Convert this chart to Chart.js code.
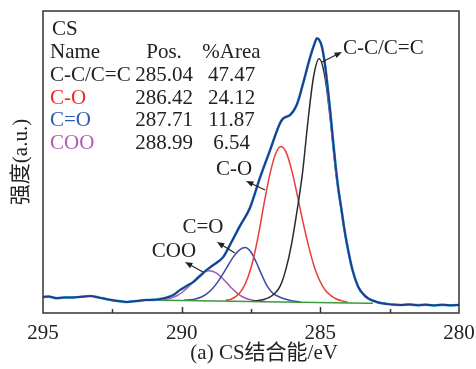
<!DOCTYPE html>
<html lang="zh">
<head>
<meta charset="UTF-8">
<title>CS C1s 分峰拟合</title>
<script src="https://cdn.jsdelivr.net/npm/chart.js"></script>
<style>
  body { margin: 0; background: #ffffff; }
  #wrap { width: 476px; height: 369px; }
</style>
</head>
<body>
<div id="wrap"><canvas id="grafico" width="476" height="369"></canvas></div>
<script>
// ---- table in the corner ----
const sampleName = 'CS';
const tableHeader = ['Name', 'Pos.', '%Area'];
const peakNames = ['C-C/C=C', 'C-O', 'C=O', 'COO'];
const peakPositions = ['285.04', '286.42', '287.71', '288.99'];
const peakAreas = ['47.47', '24.12', '11.87', '6.54'];
const peakTextColors = ['#222222', '#ee2a2a', '#2d5bb5', '#b25bb8'];

// ---- measured spectrum (binding energy eV / intensity a.u.) ----
const envelopeEnergy = [295.0, 294.8, 294.5, 294.2, 293.9, 293.6, 293.3, 293.0, 292.7, 292.5,
  292.3, 292.0, 291.8, 291.6, 291.3, 291.0, 290.8, 290.5, 290.3, 290.06,
  289.82, 289.58, 289.34, 289.1, 288.86, 288.5, 288.26, 287.9, 287.54, 287.18,
  286.81, 286.45, 286.33, 286.2, 286.09, 285.91, 285.8, 285.67, 285.55, 285.43,
  285.3, 285.2, 285.13, 285.05, 284.95, 284.84, 284.74, 284.64, 284.54, 284.44,
  284.34, 284.24, 284.14, 284.04, 283.84, 283.64, 283.44, 283.24, 283.04, 282.84,
  282.6, 282.4, 282.1, 281.8, 281.5, 281.2, 280.9, 280.6, 280.3, 280.0];
const envelopeValues = [16, 16.4, 14.8, 15.6, 15.6, 16.3, 17, 15.6, 13.8, 12.8,
  12.1, 11, 11.6, 12, 13, 13.2, 13.8, 15.7, 18, 23,
  27, 31, 37, 43, 48, 56, 68, 87, 105, 135,
  163, 190, 194.7, 196.5, 198, 204.7, 212, 224.7, 237, 249.7,
  262, 270, 274.7, 273.5, 267, 250, 227, 201, 172, 145,
  122, 104, 85, 69, 43, 26.5, 18.5, 14, 11.8, 10,
  9.1, 8.4, 8.0, 8.6, 7.8, 8.3, 7.6, 8.2, 7.7, 8.0];

// ---- fitted components ----
const ccEnergy = [282.64, 282.84, 283.04, 283.24, 283.44, 283.64, 283.84, 284.04, 284.24, 284.44,
  284.64, 284.84, 285.04, 285.24, 285.44, 285.64, 285.84, 286.04, 286.24, 286.44,
  286.64, 286.84, 287.04, 287.24, 287.44];
const ccValues = [10.1, 10.6, 11.9, 14.2, 18.4, 26.3, 42.9, 67.9, 101.6, 140.2,
  193.2, 236.8, 254.2, 237.0, 193.5, 140.7, 102.2, 68.7, 43.9, 27.4,
  19.7, 15.6, 13.5, 12.4, 12.0];

const coEnergy = [284.02, 284.22, 284.42, 284.62, 284.82, 285.02, 285.22, 285.42, 285.62, 285.82,
  286.02, 286.22, 286.42, 286.62, 286.82, 287.02, 287.22, 287.42, 287.62, 287.82,
  288.02, 288.22, 288.42];
const coValues = [10.9, 12.1, 14.0, 17.4, 22.8, 32.3, 46.3, 66.6, 90.1, 116.5,
  141.4, 159.9, 166.5, 158.8, 138.6, 110.8, 79.8, 53.5, 34.9, 23.3,
  17.1, 13.8, 12.7];

const c2oEnergy = [285.71, 285.91, 286.11, 286.31, 286.51, 286.71, 286.91, 287.11, 287.31, 287.51,
  287.71, 287.91, 288.11, 288.31, 288.51, 288.71, 288.91, 289.11, 289.31, 289.51,
  289.71, 289.91];
const c2oValues = [11.1, 11.7, 12.8, 14.2, 16.5, 19.8, 26.6, 37.9, 50.7, 61.2,
  65.4, 63.2, 57.1, 48.5, 39.1, 30.6, 23.7, 18.8, 15.7, 14.0,
  13.2, 12.8];

const cooEnergy = [286.99, 287.19, 287.39, 287.59, 287.79, 287.99, 288.19, 288.39, 288.59, 288.79,
  288.99, 289.19, 289.39, 289.59, 289.79, 289.99, 290.19, 290.39, 290.59, 290.79,
  290.99];
const cooValues = [11.5, 11.8, 12.5, 13.7, 16.0, 19.7, 24.7, 30.7, 36.3, 40.6,
  42.3, 40.8, 36.7, 31.1, 25.3, 20.5, 17.0, 14.9, 13.7, 13.2,
  13.1];

const bgEnergy = [291.2, 283.1];
const bgValues = [13.0, 9.7];

// ---- peak labels with arrows (data units) ----
const labelTexts = ['C-C/C=C', 'C-O', 'C=O', 'COO'];
const labelE = [282.73, 288.11, 289.23, 290.28];
const labelV = [265, 144, 86, 62];
const arrowFromE = [284.94, 286.99, 288.08, 289.23];
const arrowFromV = [251, 123, 60, 41];
const arrowToE = [284.22, 287.68, 288.73, 289.88];
const arrowToV = [261, 132, 71, 51];

const xTicks = { min: 280, max: 295, step: 2.5 };

const FONT_FAMILY = "'Liberation Serif', 'Times New Roman', 'Noto Sans CJK SC', serif";
const FONT = '21px ' + FONT_FAMILY;

function pts(xs, ys) {
  return xs.map((x, i) => ({ x: x, y: ys[i] }));
}

function arrow(ctx, x1, y1, x2, y2) {
  const ang = Math.atan2(y2 - y1, x2 - x1);
  const len = 8;
  ctx.beginPath();
  ctx.moveTo(x1, y1);
  ctx.lineTo(x2 - Math.cos(ang) * 4, y2 - Math.sin(ang) * 4);
  ctx.stroke();
  ctx.beginPath();
  ctx.moveTo(x2, y2);
  ctx.lineTo(x2 - len * Math.cos(ang - 0.38), y2 - len * Math.sin(ang - 0.38));
  ctx.lineTo(x2 - len * Math.cos(ang + 0.38), y2 - len * Math.sin(ang + 0.38));
  ctx.closePath();
  ctx.fill();
}

const extras = {
  id: 'extras',
  afterDraw(chart) {
    const ctx = chart.ctx;
    const a = chart.chartArea;
    const xs = chart.scales.x, ys = chart.scales.y;
    ctx.save();

    // frame
    ctx.strokeStyle = '#333333';
    ctx.lineWidth = 1.5;
    ctx.strokeRect(a.left, a.top, a.right - a.left, a.bottom - a.top);

    // ticks pointing inside
    xs.ticks.forEach(t => {
      if (t.value === xTicks.min || t.value === xTicks.max) return;
      const px = Math.round(xs.getPixelForValue(t.value)) + 0.5;
      const len = t.value % 5 === 0 ? 6 : 4;
      ctx.beginPath();
      ctx.moveTo(px, a.bottom);
      ctx.lineTo(px, a.bottom - len);
      ctx.stroke();
    });

    // table
    ctx.font = FONT;
    ctx.textBaseline = 'alphabetic';
    ctx.fillStyle = '#222222';
    ctx.textAlign = 'left';
    ctx.fillText(sampleName, a.left + 9, a.top + 23.7);
    ctx.fillText(tableHeader[0], a.left + 7, a.top + 47.3);
    ctx.textAlign = 'center';
    ctx.fillText(tableHeader[1], a.left + 121, a.top + 47.3);
    ctx.fillText(tableHeader[2], a.left + 188.5, a.top + 47.3);
    peakNames.forEach((n, i) => {
      const y = a.top + 70 + i * 22.7;
      ctx.textAlign = 'left';
      ctx.fillStyle = peakTextColors[i];
      ctx.fillText(n, a.left + 7, y);
      ctx.fillStyle = '#222222';
      ctx.textAlign = 'center';
      ctx.fillText(peakPositions[i], a.left + 121, y);
      ctx.fillText(peakAreas[i], a.left + 188.5, y);
    });

    // peak labels
    ctx.textAlign = 'center';
    ctx.textBaseline = 'middle';
    ctx.fillStyle = '#222222';
    ctx.strokeStyle = '#222222';
    ctx.lineWidth = 1.2;
    labelTexts.forEach((txt, i) => {
      ctx.fillText(txt, xs.getPixelForValue(labelE[i]), ys.getPixelForValue(labelV[i]));
      arrow(ctx,
        xs.getPixelForValue(arrowFromE[i]), ys.getPixelForValue(arrowFromV[i]),
        xs.getPixelForValue(arrowToE[i]), ys.getPixelForValue(arrowToV[i]));
    });
    ctx.restore();
  }
};

const line = (data, color, width) => ({
  data: data,
  borderColor: color,
  borderWidth: width,
  pointRadius: 0,
  fill: false,
  cubicInterpolationMode: 'monotone'
});

new Chart(document.getElementById('grafico').getContext('2d'), {
  type: 'line',
  data: {
    datasets: [
      line(pts(envelopeEnergy, envelopeValues), '#283891', 2.0),
      line(pts(envelopeEnergy, envelopeValues), '#3cc6d6', 2.7),
      line(pts(bgEnergy, bgValues), '#3c9a3c', 1.6),
      line(pts(ccEnergy, ccValues), '#2b2b2b', 1.5),
      line(pts(coEnergy, coValues), '#ec3b3b', 1.5),
      line(pts(c2oEnergy, c2oValues), '#3b49ad', 1.5),
      line(pts(cooEnergy, cooValues), '#a653b3', 1.5)
    ]
  },
  options: {
    responsive: false,
    animation: false,
    devicePixelRatio: 1,
    layout: { padding: { top: 11, right: 17, left: 0, bottom: 0 } },
    plugins: { legend: { display: false }, tooltip: { enabled: false } },
    scales: {
      x: {
        type: 'linear',
        reverse: true,
        min: xTicks.min,
        max: xTicks.max,
        grid: { display: false, drawTicks: false },
        border: { display: false },
        ticks: {
          stepSize: xTicks.step,
          autoSkip: false,
          maxRotation: 0,
          padding: 8,
          color: '#222222',
          font: { family: FONT_FAMILY, size: 21 },
          callback: v => (v % 5 === 0 ? String(v) : '')
        },
        title: {
          display: true,
          text: '\u3000\u00a0(a) CS结合能/eV',
          color: '#222222',
          font: { family: FONT_FAMILY, size: 21 },
          padding: { top: 0, bottom: 3 }
        },
        afterFit: s => {
          s.height = 56;
          s.paddingLeft = 0;
          s.paddingRight = 0;
        }
      },
      y: {
        min: 0,
        max: 302,
        grid: { display: false, drawTicks: false },
        border: { display: false },
        ticks: { display: false },
        title: {
          display: true,
          text: '强度(a.u.)',
          color: '#222222',
          font: { family: FONT_FAMILY, size: 21 },
          padding: { top: 9, bottom: 0 }
        },
        afterFit: s => { s.width = 43; }
      }
    }
  },
  plugins: [extras]
});
</script>
</body>
</html>
